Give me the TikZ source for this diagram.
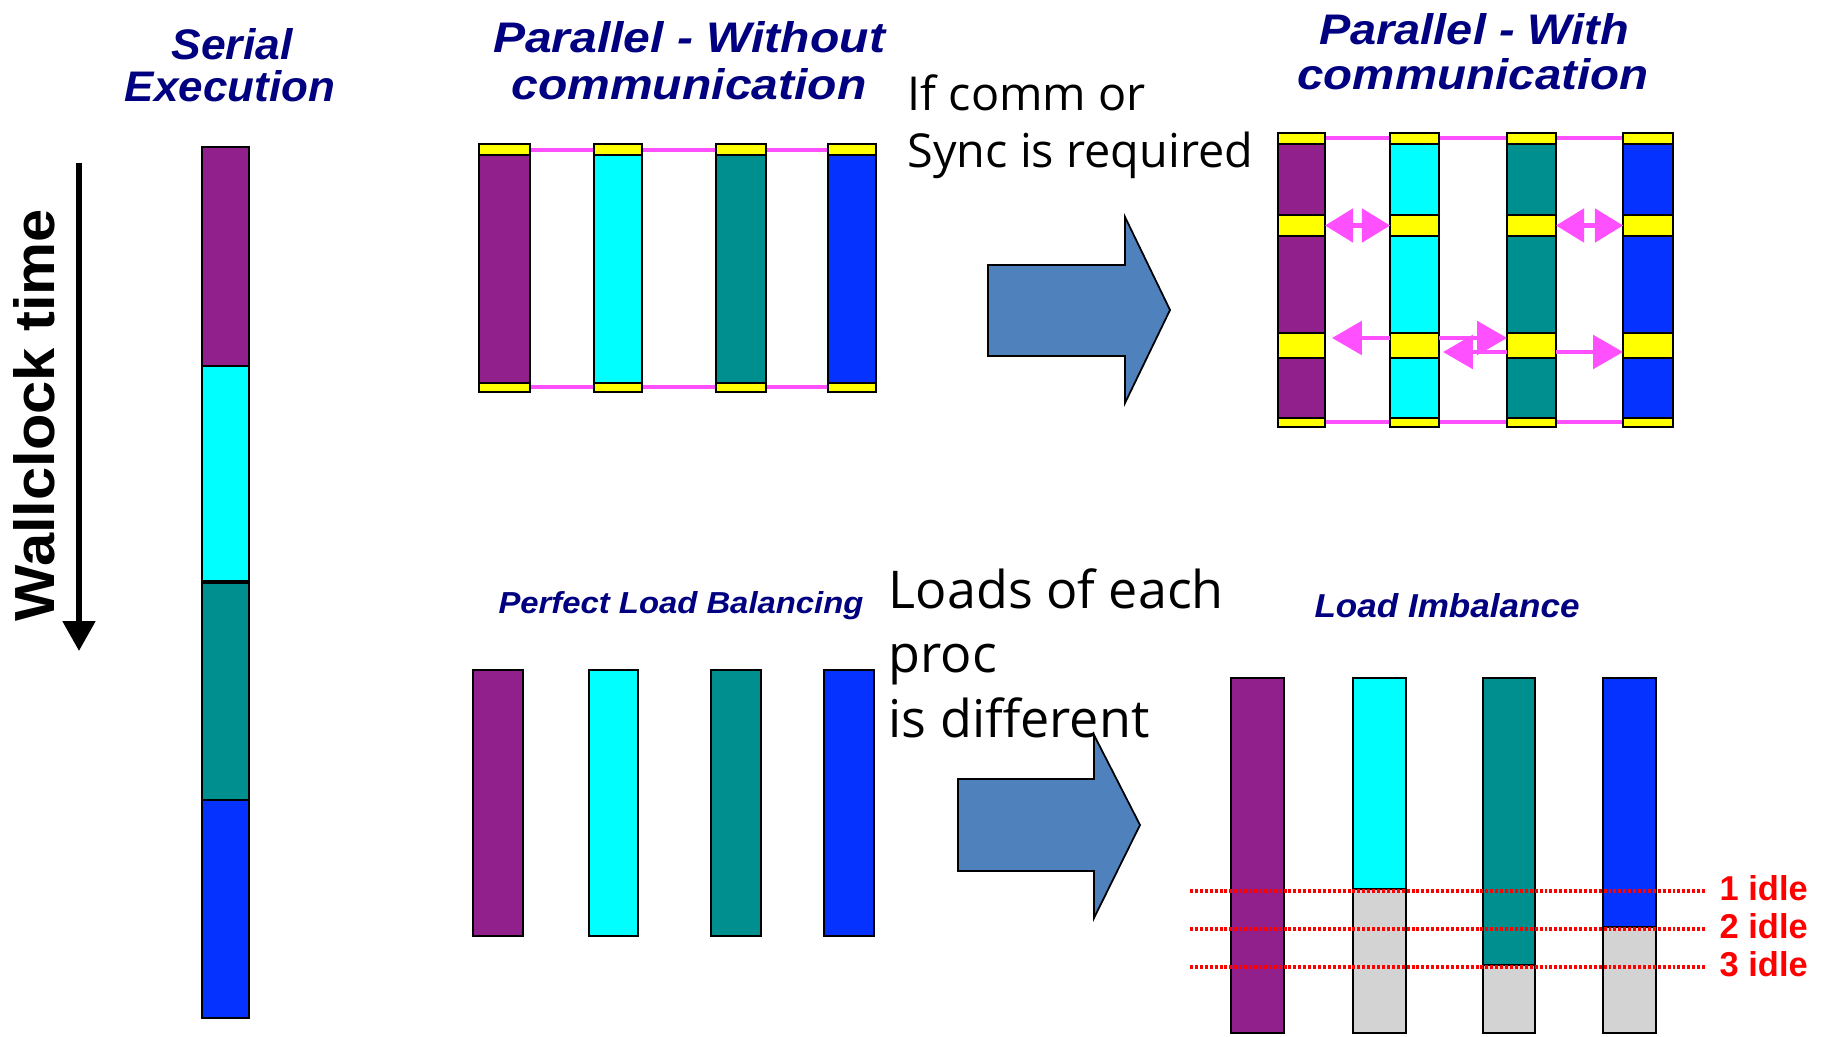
\documentclass[tikz,border=0pt]{standalone}
\usepackage{fontspec}
\setmainfont{Liberation Sans}
\newfontfamily\osans{Open Sans}
\usetikzlibrary{arrows.meta}
\newdimen\px \px=0.01cm
\definecolor{purp}{RGB}{146,32,140}
\definecolor{cyn}{RGB}{0,255,255}
\definecolor{tealc}{RGB}{0,143,143}
\definecolor{blu}{RGB}{5,50,255}
\definecolor{yel}{RGB}{255,255,0}
\definecolor{navy}{RGB}{0,0,128}
\definecolor{mag}{RGB}{255,80,255}
\definecolor{idlegray}{RGB}{211,211,211}
\definecolor{arrowblue}{RGB}{79,129,189}
\definecolor{idlered}{RGB}{255,0,0}
\begin{document}
\begin{tikzpicture}[x=0.01cm,y=-0.01cm,
  seg/.style={draw=black,line width=0.6pt},
  syncbox/.style={rectangle,draw=black,line width=0.6pt,fill=yel,inner sep=0pt,outer sep=0pt},
  title/.style={text=navy,font=\bfseries\itshape,inner sep=0pt,anchor=base},
  marrow/.style={draw=mag,line width=1.2pt,-{Triangle[length=8.5pt,width=9.5pt]}},
  mdouble/.style={draw=mag,line width=1.2pt,{Triangle[length=8pt,width=9.5pt]}-{Triangle[length=8pt,width=9.5pt]}},
  mline/.style={draw=mag,line width=0.9pt},
  blockarrow/.style={fill=arrowblue,draw=black,line width=0.5pt,line join=miter},
  note/.style={inner sep=0pt,anchor=base west},
  idleline/.style={draw=idlered,line width=1.1pt,dash pattern=on 0.85pt off 0.55pt},
  idlelabel/.style={text=idlered,font=\bfseries,inner sep=0pt,anchor=base west}
]
\useasboundingbox (0,0) rectangle (1825,1037);
\fill[white] (0,0) rectangle (1825,1037);

% ---------- Wallclock ----------
\coordinate (wtop) at (79,163);
\coordinate (wbot) at (79,651);
\draw[line width=1.7pt,-{Triangle[length=8.5pt,width=9pt]}] (wtop) -- (wbot);
\node[rotate=90,anchor=base,inner sep=0pt] (wc) at (54,415) {\resizebox{412\px}{41\px}{\bfseries Wallclock time}};

% ---------- Serial ----------
\node[title] (ser1) at (232,60) {\resizebox{121\px}{31\px}{Serial}};
\node[title] (ser2) at (230,102) {\resizebox{210\px}{31\px}{Execution}};
\draw[seg,fill=purp] (202,147) rectangle (249,366);
\draw[seg,fill=cyn] (202,366) rectangle (249,582);
\draw[seg,fill=tealc] (202,582) rectangle (249,800);
\draw[seg,fill=blu] (202,800) rectangle (249,1018);
\draw[line width=1.3pt] (202,582) -- (249,582);

% ---------- Parallel without communication ----------
\node[title] (pw1) at (689,53) {\resizebox{392\px}{31\px}{Parallel - Without}};
\node[title] (pw2) at (689,100) {\resizebox{355\px}{31\px}{communication}};
\draw[mline] (504,150) -- (852,150);
\draw[mline] (504,387) -- (852,387);
\foreach \a/\b/\c in {479/530/purp,594/642/cyn,716/766/tealc,828/876/blu}{
  \draw[seg,fill=yel] (\a,144) rectangle (\b,155);
  \draw[seg,fill=\c] (\a,155) rectangle (\b,383);
  \draw[seg,fill=yel] (\a,383) rectangle (\b,392);
}

% ---------- Top block arrow + note ----------
\draw[blockarrow] (988,265) -- (1125,265) -- (1125,217) -- (1170,310) -- (1125,403) -- (1125,356) -- (988,356) -- cycle;
\node[note,font={\osans\fontsize{13.3pt}{16pt}\selectfont}] (n1) at (907,111) {If comm or};
\node[note,font={\osans\fontsize{13.3pt}{16pt}\selectfont}] (n2) at (907,168) {Sync is required};

% ---------- Parallel with communication ----------
\node[title] (pc1) at (1474,45) {\resizebox{310\px}{31\px}{Parallel - With}};
\node[title] (pc2) at (1473,90) {\resizebox{351\px}{31\px}{communication}};
\draw[mline] (1300,138) -- (1648,138);
\draw[mline] (1300,422) -- (1648,422);
\foreach \a/\b/\c in {1278/1325/purp,1390/1439/cyn,1507/1556/tealc,1623/1673/blu}{
  \draw[seg,fill=yel] (\a,133) rectangle (\b,144);
  \draw[seg,fill=\c] (\a,144) rectangle (\b,215);
  \draw[seg,fill=\c] (\a,236) rectangle (\b,333);
  \draw[seg,fill=\c] (\a,358) rectangle (\b,418);
  \draw[seg,fill=yel] (\a,418) rectangle (\b,427);
}
\node[syncbox,minimum width=47\px,minimum height=21\px] (A1) at (1301.5,225.5) {};
\node[syncbox,minimum width=49\px,minimum height=21\px] (B1) at (1414.5,225.5) {};
\node[syncbox,minimum width=49\px,minimum height=21\px] (C1) at (1531.5,225.5) {};
\node[syncbox,minimum width=50\px,minimum height=21\px] (D1) at (1648,225.5) {};
\node[syncbox,minimum width=47\px,minimum height=25\px] (A2) at (1301.5,345.5) {};
\node[syncbox,minimum width=49\px,minimum height=25\px] (B2) at (1414.5,345.5) {};
\node[syncbox,minimum width=49\px,minimum height=25\px] (C2) at (1531.5,345.5) {};
\node[syncbox,minimum width=50\px,minimum height=25\px] (D2) at (1648,345.5) {};
\draw[mdouble] (A1.east) -- (B1.west);
\draw[mdouble] (C1.east) -- (D1.west);
\draw[marrow,shorten >=7\px] ([yshift=7.5\px]B2.west) -- ([yshift=7.5\px]A2.east);
\draw[marrow] ([yshift=7.5\px]B2.east) -- ([yshift=7.5\px]C2.west);
\draw[marrow,shorten >=4\px] ([yshift=-6.5\px]C2.west) -- ([yshift=-6.5\px]B2.east);
\draw[marrow] ([yshift=-6.5\px]C2.east) -- ([yshift=-6.5\px]D2.west);

% ---------- Perfect load balancing ----------
\node[title] (plb) at (681,613) {\resizebox{365\px}{22\px}{Perfect Load Balancing}};
\foreach \a/\b/\c in {473/523/purp,589/638/cyn,711/761/tealc,824/874/blu}{
  \draw[seg,fill=\c] (\a,670) rectangle (\b,936);
}

% ---------- Bottom block arrow + note ----------
\draw[blockarrow] (958,779) -- (1094,779) -- (1094,735) -- (1140,825) -- (1094,918) -- (1094,871) -- (958,871) -- cycle;
\node[note,font={\osans\fontsize{14.8pt}{18pt}\selectfont}] (n3) at (888,608) {Loads of each};
\node[note,font={\osans\fontsize{14.8pt}{18pt}\selectfont}] (n4) at (888,672) {proc};
\node[note,font={\osans\fontsize{14.8pt}{18pt}\selectfont}] (n5) at (888,737) {is different};

% ---------- Load imbalance ----------
\node[title] (li) at (1447,617) {\resizebox{265\px}{24\px}{Load Imbalance}};
\draw[seg,fill=purp] (1231,678) rectangle (1284,1033);
\draw[seg,fill=cyn] (1353,678) rectangle (1406,889);
\draw[seg,fill=idlegray] (1353,889) rectangle (1406,1033);
\draw[seg,fill=tealc] (1483,678) rectangle (1535,965);
\draw[seg,fill=idlegray] (1483,965) rectangle (1535,1033);
\draw[seg,fill=blu] (1603,678) rectangle (1656,927);
\draw[seg,fill=idlegray] (1603,927) rectangle (1656,1033);
\draw[idleline] (1190,891) -- (1705,891);
\draw[idleline] (1190,929) -- (1705,929);
\draw[idleline] (1190,967) -- (1705,967);
\node[idlelabel] (i1) at (1719,900) {\resizebox{88\px}{25\px}{1 idle}};
\node[idlelabel] (i2) at (1719,938) {\resizebox{88\px}{25\px}{2 idle}};
\node[idlelabel] (i3) at (1719,976) {\resizebox{88\px}{25\px}{3 idle}};
\end{tikzpicture}
\end{document}
